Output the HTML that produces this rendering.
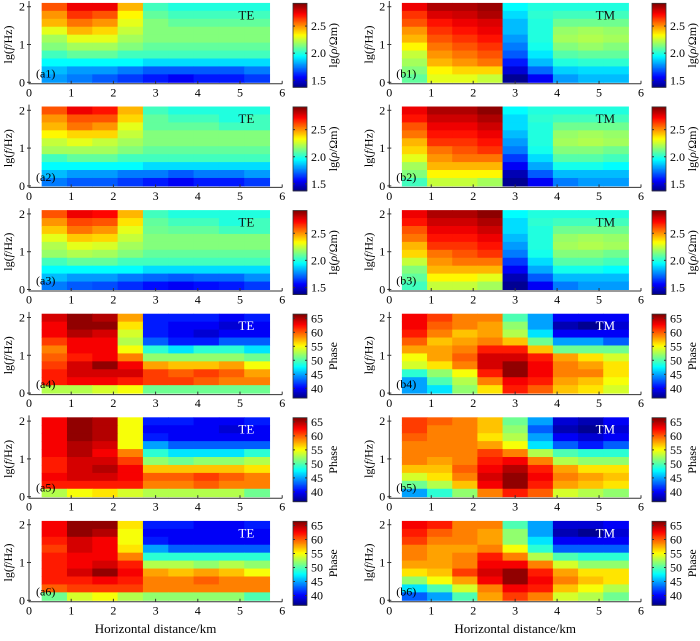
<!DOCTYPE html>
<html><head><meta charset="utf-8"><style>
body{margin:0;background:#fff}
svg{display:block;font-family:"Liberation Serif",serif}
</style></head><body>
<svg id="c" width="700" height="641" viewBox="0 0 700 641"></svg>
<script>
const xTicks=[0,1,2,3,4,5,6];
const yTicks=[0,1,2];
const resTicks=["1.5","2.0","2.5"];
const phaseTicks=["40","45","50","55","60","65"];
const colStarts=[0.3,0.9,1.5,2.1,2.7,3.3,3.9,4.5,5.1];
const a1=[[2.6,2.75,2.75,2.45,2.05,2.0,2.0,2.0,2.0],[2.5,2.65,2.6,2.35,2.1,2.05,2.05,2.05,2.05],[2.45,2.55,2.5,2.3,2.15,2.1,2.1,2.1,2.1],[2.3,2.45,2.4,2.25,2.15,2.15,2.15,2.15,2.15],[2.2,2.3,2.3,2.2,2.15,2.15,2.15,2.15,2.15],[2.15,2.2,2.2,2.15,2.1,2.1,2.1,2.1,2.1],[2.05,2.1,2.1,2.05,2.05,2.05,2.05,2.05,2.05],[1.95,1.95,1.95,1.95,1.9,1.9,1.9,1.9,1.9],[1.85,1.8,1.8,1.75,1.7,1.7,1.7,1.7,1.75],[1.8,1.75,1.7,1.65,1.6,1.55,1.6,1.6,1.65]];
const a2=[[2.6,2.75,2.7,2.45,2.05,2.0,2.0,2.0,2.0],[2.5,2.6,2.6,2.4,2.1,2.05,2.05,2.0,2.05],[2.45,2.55,2.5,2.3,2.1,2.1,2.1,2.05,2.05],[2.35,2.4,2.4,2.25,2.15,2.15,2.15,2.15,2.15],[2.25,2.3,2.25,2.2,2.15,2.15,2.15,2.15,2.15],[2.2,2.2,2.2,2.15,2.1,2.1,2.1,2.1,2.1],[2.05,2.1,2.1,2.05,2.05,2.05,2.05,2.05,2.05],[1.95,1.95,1.95,1.95,1.9,1.9,1.9,1.9,1.9],[1.85,1.8,1.8,1.75,1.75,1.7,1.75,1.75,1.8],[1.75,1.7,1.7,1.65,1.6,1.55,1.6,1.6,1.65]];
const a3=[[2.6,2.75,2.72,2.45,2.05,2.0,2.0,2.0,2.0],[2.5,2.62,2.6,2.38,2.1,2.05,2.05,2.0,2.05],[2.42,2.55,2.5,2.3,2.12,2.1,2.1,2.05,2.05],[2.3,2.42,2.4,2.25,2.15,2.15,2.15,2.15,2.15],[2.22,2.3,2.28,2.2,2.15,2.15,2.15,2.15,2.15],[2.18,2.22,2.2,2.15,2.1,2.1,2.1,2.1,2.1],[2.05,2.1,2.1,2.05,2.05,2.05,2.05,2.05,2.05],[1.95,1.95,1.95,1.95,1.9,1.9,1.9,1.9,1.9],[1.85,1.8,1.8,1.75,1.72,1.7,1.72,1.72,1.78],[1.75,1.7,1.68,1.63,1.58,1.55,1.58,1.6,1.65]];
const b1=[[2.75,2.85,2.85,2.88,1.95,2.0,2.0,2.0,2.0],[2.65,2.78,2.8,2.85,1.9,2.02,2.05,2.05,2.05],[2.6,2.7,2.75,2.78,1.85,2.0,2.12,2.12,2.12],[2.5,2.65,2.7,2.75,1.85,2.0,2.18,2.2,2.18],[2.45,2.6,2.65,2.7,1.8,2.0,2.2,2.22,2.2],[2.35,2.55,2.6,2.65,1.75,1.98,2.15,2.18,2.15],[2.25,2.5,2.55,2.6,1.7,1.92,2.08,2.1,2.1],[2.2,2.45,2.5,2.55,1.6,1.85,2.0,2.02,2.02],[2.15,2.35,2.4,2.4,1.5,1.72,1.88,1.9,1.9],[2.1,2.3,2.3,2.25,1.4,1.55,1.8,1.85,1.85]];
const b2=[[2.75,2.85,2.85,2.9,1.95,2.0,2.0,2.0,2.0],[2.7,2.8,2.8,2.85,1.9,2.02,2.05,2.05,2.05],[2.6,2.75,2.75,2.8,1.9,2.0,2.12,2.12,2.12],[2.55,2.7,2.7,2.75,1.85,2.0,2.18,2.2,2.18],[2.45,2.65,2.65,2.7,1.8,2.0,2.2,2.22,2.2],[2.4,2.55,2.6,2.65,1.75,1.98,2.15,2.15,2.12],[2.3,2.5,2.55,2.55,1.65,1.9,2.08,2.08,2.05],[2.2,2.45,2.45,2.45,1.55,1.82,1.98,1.98,1.95],[2.15,2.35,2.35,2.35,1.45,1.7,1.85,1.85,1.85],[2.05,2.25,2.25,2.2,1.4,1.55,1.75,1.8,1.8]];
const b3=[[2.75,2.85,2.85,2.9,1.95,2.0,2.0,2.0,2.0],[2.7,2.8,2.8,2.85,1.9,2.02,2.05,2.05,2.05],[2.6,2.75,2.75,2.8,1.9,2.0,2.12,2.12,2.12],[2.55,2.7,2.7,2.75,1.85,2.0,2.18,2.2,2.18],[2.45,2.65,2.65,2.7,1.8,2.0,2.2,2.22,2.2],[2.4,2.55,2.6,2.65,1.75,1.98,2.15,2.15,2.12],[2.25,2.5,2.55,2.55,1.65,1.9,2.08,2.08,2.05],[2.15,2.45,2.45,2.45,1.55,1.82,1.98,1.98,1.95],[2.1,2.35,2.35,2.3,1.45,1.7,1.85,1.85,1.85],[2.05,2.25,2.25,2.2,1.4,1.55,1.75,1.8,1.8]];
const a4=[[64,66,65,58,41,41,41,40,41],[63,66,66,56,41,40,40,39,40],[63,65,64,54,41,40,39,40,40],[61,63,63,53,43,41,41,43,43],[59,63,63,55,49,47,49,49,47],[60,62,63,59,52,52,52,52,51],[61,64,66,63,58,57,57,58,55],[62,64,64,64,61,60,61,60,58],[62,63,63,62,61,61,60,59,59],[53,53,54,55,51,51,51,51,51]];
const a5=[[63,66,65,55,41,41,40,40,41],[63,66,65,55,40,40,40,39,40],[63,66,65,55,41,40,40,40,40],[63,65,64,55,45,43,43,43,43],[63,65,63,59,49,47,47,47,49],[62,64,64,61,52,51,52,52,53],[62,64,65,63,57,57,57,57,56],[63,64,64,63,60,60,61,60,59],[62,62,62,62,59,59,60,59,59],[53,55,56,54,53,53,53,53,51]];
const a6=[[63,66,66,56,41,41,40,40,41],[63,66,65,55,40,40,40,40,40],[62,64,63,55,41,40,40,40,40],[61,64,63,56,45,43,43,43,43],[62,63,63,59,49,49,49,49,49],[62,63,64,62,53,53,52,53,52],[62,64,66,63,58,57,58,57,55],[62,62,63,62,59,59,60,59,59],[60,61,61,61,59,59,59,59,59],[51,54,55,53,52,52,52,52,50]];
const b4=[[63,61,59,59,50,45,40,40,40],[63,60,59,58,52,45,38,37,39],[62,59,57,58,53,47,40,40,40],[60,57,58,59,57,51,45,45,43],[58,58,59,62,62,57,51,51,51],[55,58,60,64,64,62,58,56,54],[54,56,59,64,66,63,59,58,56],[49,52,55,62,66,63,59,59,56],[45,50,53,59,63,62,58,57,55],[45,47,52,56,62,60,57,56,54]];
const b5=[[61,60,59,57,51,45,39,38,40],[61,59,59,57,52,43,38,37,39],[60,59,59,56,53,45,40,39,40],[59,59,59,58,55,47,43,41,43],[59,59,59,61,59,53,50,49,49],[59,58,59,62,63,59,53,52,52],[57,57,60,63,65,62,58,56,56],[54,56,59,64,66,63,59,58,57],[51,53,57,63,66,62,58,57,56],[45,49,52,59,62,60,54,53,52]];
const b6=[[63,62,59,59,50,45,39,39,40],[62,60,59,58,52,45,38,37,39],[61,59,59,58,52,47,40,40,40],[59,58,58,59,55,49,43,43,43],[59,58,59,62,59,53,50,49,49],[58,58,59,63,63,59,54,52,52],[56,57,61,64,66,62,58,56,56],[52,55,58,63,66,63,59,57,56],[47,50,54,59,63,62,57,55,53],[43,45,50,58,61,59,54,53,51]];

const NS="http://www.w3.org/2000/svg";
const svg=document.getElementById('c');
function mk(t,a,p){const e=document.createElementNS(NS,t);for(const k in a)e.setAttribute(k,a[k]);(p||svg).appendChild(e);return e;}
function jet(t){t=Math.max(0,Math.min(1,t));
 const f=x=>Math.round(255*Math.max(0,Math.min(1,x)));
 return `rgb(${f(1.5-Math.abs(4*t-3))},${f(1.5-Math.abs(4*t-2))},${f(1.5-Math.abs(4*t-1))})`;}
const RES=[1.37,2.92], PH=[36.5,66.5];
const panels=[
 {d:a1,side:0,row:0,tag:"(a1)",mode:"TE",r:RES},{d:a2,side:0,row:1,tag:"(a2)",mode:"TE",r:RES},{d:a3,side:0,row:2,tag:"(a3)",mode:"TE",r:RES},
 {d:a4,side:0,row:3,tag:"(a4)",mode:"TE",r:PH},{d:a5,side:0,row:4,tag:"(a5)",mode:"TE",r:PH},{d:a6,side:0,row:5,tag:"(a6)",mode:"TE",r:PH},
 {d:b1,side:1,row:0,tag:"(b1)",mode:"TM",r:RES},{d:b2,side:1,row:1,tag:"(b2)",mode:"TM",r:RES},{d:b3,side:1,row:2,tag:"(b3)",mode:"TM",r:RES},
 {d:b4,side:1,row:3,tag:"(b4)",mode:"TM",r:PH},{d:b5,side:1,row:4,tag:"(b5)",mode:"TM",r:PH},{d:b6,side:1,row:5,tag:"(b6)",mode:"TM",r:PH}];
const X0=[29,389.3], XS=[42.2,41.95], CBX=[293,652];
panels.forEach(p=>{
 const g=mk('g',{});
 
 
 const y0=82.3+p.row*103.6, ys=37.8;
 const xs=v=>X0[p.side]+v*XS[p.side], yv=v=>y0-v*ys;
 const norm=v=>(v-p.r[0])/(p.r[1]-p.r[0]);
 p.d.forEach((rowv,i)=>{
  const top=2.1-i*0.21;
  rowv.forEach((v,j)=>{
   const c=mk('rect',{x:xs(colStarts[j]).toFixed(2),y:yv(top).toFixed(2),width:(0.6*XS[p.side]+0.5).toFixed(2),height:(0.21*ys+0.5).toFixed(2),fill:jet(norm(v))},g);
   
   
  });
 });
 const ax=mk('path',{d:`M${xs(0)},${yv(2.15)}V${y0+1.5}H${xs(6)}`,stroke:'#333',fill:'none','stroke-width':1},g);
 
 
 xTicks.forEach(t=>{
  mk('line',{x1:xs(t),x2:xs(t),y1:y0+1.5,y2:y0-1.5,stroke:'#333'},g);
  const tx=mk('text',{x:xs(t),y:y0+14,'font-size':12,'text-anchor':'middle'},g);tx.textContent=t;
  
  
 });
 yTicks.forEach(t=>{
  mk('line',{x1:xs(0)-2,x2:xs(0)+2,y1:yv(t),y2:yv(t),stroke:'#333'},g);
  const tx=mk('text',{x:xs(0)-4,y:yv(t)+4,'font-size':12,'text-anchor':'end'},g);tx.textContent=t;
  
  
 });
 const yl=mk('text',{x:0,y:0,'font-size':12,'text-anchor':'middle',transform:`translate(${xs(0)-17},${yv(1)}) rotate(-90)`},g);
 yl.innerHTML='lg(<tspan font-style="italic">f</tspan>/Hz)';
 
 
 const tg=mk('text',{x:xs(0)+7,y:y0-5,'font-size':12},g);tg.textContent=p.tag;
 
 
 const md=mk('text',{x:xs(5.15),y:y0-63,'font-size':13,'text-anchor':'middle',fill:p.r===PH?'#fff':'#111'},g);md.textContent=p.mode;
 
 
 const cx=CBX[p.side], ct=y0-79, cb=y0+5, ch=cb-ct;
 for(let k=0;k<64;k++){
  const s=mk('rect',{x:cx,y:(cb-(k+1)*ch/64).toFixed(2),width:14,height:(ch/64+0.4).toFixed(2),fill:jet((k+0.5)/64)},g);
  
  
 }
 mk('rect',{x:cx,y:ct,width:14,height:ch,fill:'none',stroke:'#333','stroke-width':0.8},g);
 const ticks=p.r===PH?phaseTicks:resTicks;
 ticks.forEach(t=>{
  const yy=cb-(parseFloat(t)-p.r[0])/(p.r[1]-p.r[0])*ch;
  mk('line',{x1:cx,x2:cx+2,y1:yy,y2:yy,stroke:'#333'},g);
  mk('line',{x1:cx+12,x2:cx+14,y1:yy,y2:yy,stroke:'#333'},g);
  const tx=mk('text',{x:cx+18,y:yy+4,'font-size':12},g);tx.textContent=t;
  
  
 });
 const ctl=mk('text',{x:0,y:0,'font-size':12,'text-anchor':'middle',transform:`translate(${cx+44},${(ct+cb)/2}) rotate(-90)`},g);
 if(p.r===PH) ctl.textContent='Phase'; else ctl.innerHTML='lg(<tspan font-style="italic">ρ</tspan>/Ωm)';
 
 
});
[0,1].forEach(s=>{
 const t=mk('text',{x:X0[s]+3*XS[s],y:633,'font-size':13,'text-anchor':'middle'});
 t.textContent='Horizontal distance/km';
 
 
});
</script>
</body></html>
